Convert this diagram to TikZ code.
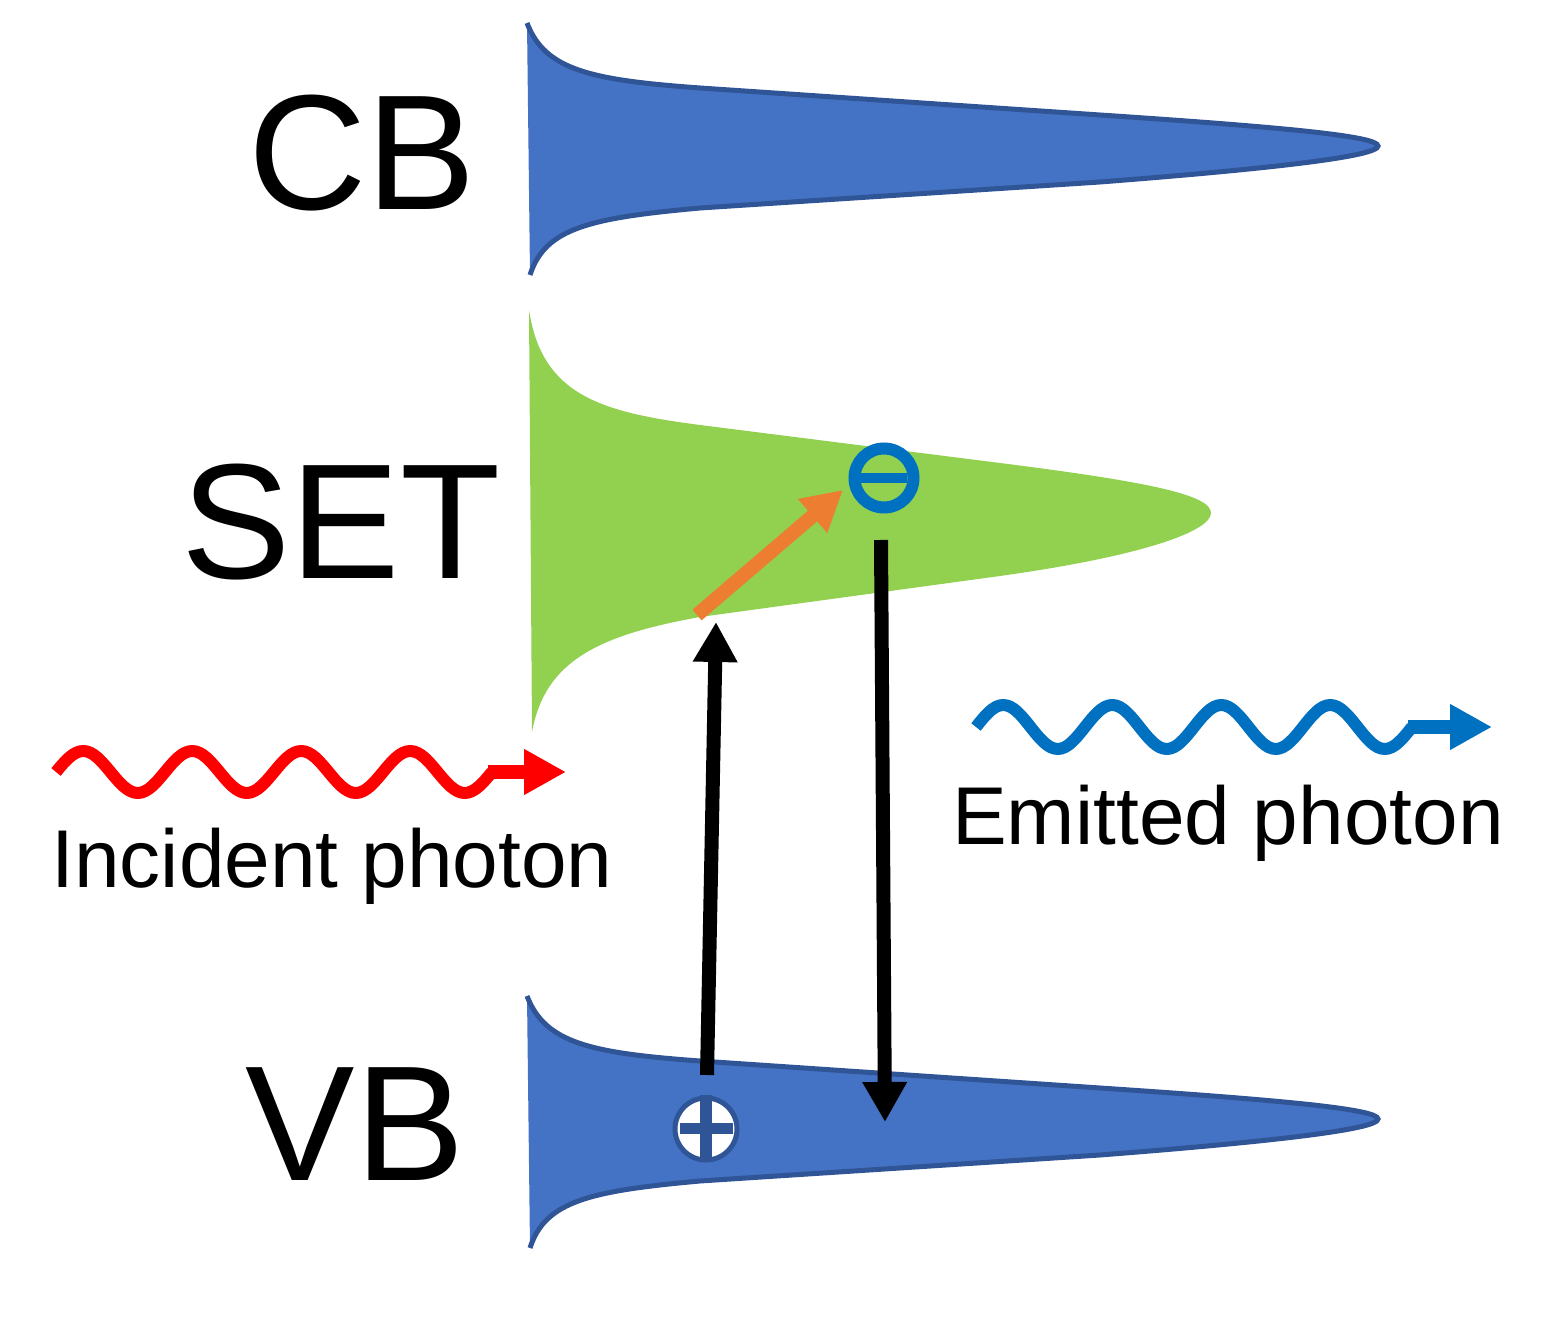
\documentclass[tikz,border=0pt]{standalone}
\usepackage{fontspec}
\setmainfont{Liberation Sans}
\usetikzlibrary{arrows.meta}

\definecolor{bandblue}{HTML}{4472C4}
\definecolor{bandedge}{HTML}{2F5597}
\definecolor{setgreen}{HTML}{92D050}
\definecolor{hopcolor}{HTML}{ED7D31}
\definecolor{emblue}{HTML}{0070C0}

\tikzset{
  band/.style={fill=bandblue, draw=bandedge, line width=2.5pt},
  setband/.style={fill=setgreen},
  level/.style={font=\fontsize{82}{90}\selectfont, inner sep=0pt, anchor=base},
  caption/.style={font=\fontsize{41}{48}\selectfont, inner sep=0pt, anchor=base},
  transition/.style={line width=7pt, -{Triangle[length=20pt,width=21pt]}},
  wave/.style={line width=6pt, line join=round},
  stub/.style={line width=7pt, -{Triangle[length=21pt,width=21.5pt]}},
}

\begin{document}
\begin{tikzpicture}[x=0.5pt, y=-0.5pt]

      \useasboundingbox (0,0) rectangle (1555,1320);

      % Bands
      \foreach \dy in {0,973} {
        \filldraw[band, shift={(0,\dy)}]
          (527,23) .. controls (545,70) and (590,80) .. (700,88)
          -- (1100,115) .. controls (1280,127) and (1378,136) .. (1378,146)
          .. controls (1378,156) and (1280,168) .. (1100,182)
          -- (700,208) .. controls (590,218) and (545,228) .. (530,275);
      }
      \fill[setband]
        (529,310) .. controls (542,395) and (600,412) .. (700,425)
        -- (1000,463) .. controls (1150,482) and (1211,495) .. (1211,513)
        .. controls (1211,530) and (1150,555) .. (1000,576)
        -- (700,617) .. controls (600,635) and (545,660) .. (532,732) -- cycle;

      % Define nodes
      \node[level]   (cb-label)  at (362,210)  {CB};
      \node[level]   (set-label) at (341,579)  {SET};
      \node[level]   (vb-label)  at (355,1181) {VB};
      \node[caption] (in-label)  at (332,888)  {Incident photon};
      \node[caption] (em-label)  at (1228,845) {Emitted photon};

      \node[circle, draw=bandedge, fill=white, line width=2.5pt,
            minimum size=31pt, inner sep=0pt] (hole) at (706,1129) {};
      \node[circle, draw=emblue, line width=6pt,
            minimum size=29.5pt, inner sep=0pt] (electron) at (884,478) {};

      \coordinate (up-start)   at (707,1075);
      \coordinate (up-end)     at (716,622);
      \coordinate (down-start) at (881,540);
      \coordinate (down-end)   at (885,1122);
      \coordinate (hop-start)  at (697,615);
      \coordinate (hop-end)    at (843,490);
      \coordinate (in-start)   at (56,772);
      \coordinate (in-tip)     at (566,772);
      \coordinate (em-start)   at (976,727);
      \coordinate (em-tip)     at (1492,727);

      % Charges
      \draw[bandedge, line width=5.5pt] (680,1129) -- (733,1129);
      \draw[bandedge, line width=6pt] (hole.north) -- (hole.south);
      \draw[emblue, line width=5pt] (860,478) -- (907,478);

      % Connect the nodes
      \draw[transition] (up-start) -- (up-end);
      \draw[transition] (down-start) -- (down-end);
      \draw[transition, hopcolor] (hop-start) -- (hop-end);

      % Photons
      \draw[wave, red] (in-start)
        \foreach \i in {1,...,4} {
          sin ++(27.25,-21) cos ++(27.25,21) sin ++(27.25,21) cos ++(27.25,-21)
        } coordinate (in-end);
      \draw[stub, red] ([xshift=-2pt]in-end) -- (in-tip);
      \draw[wave, emblue] (em-start)
        \foreach \i in {1,...,4} {
          sin ++(27.25,-22) cos ++(27.25,22) sin ++(27.25,22) cos ++(27.25,-22)
        } coordinate (em-end);
      \draw[stub, emblue] ([xshift=-2pt]em-end) -- (em-tip);

\end{tikzpicture}
\end{document}
